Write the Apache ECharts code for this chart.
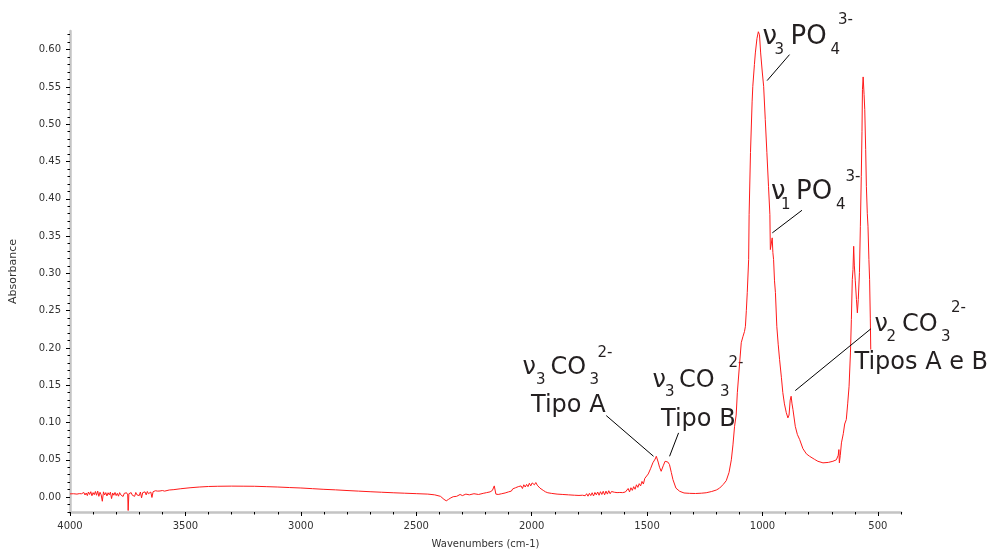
<!DOCTYPE html>
<html><head><meta charset="utf-8">
<script src="https://cdn.jsdelivr.net/npm/echarts@6/dist/echarts.min.js"></script>
<style>html,body{margin:0;padding:0;background:#fff}#c{width:995px;height:549px}</style>
</head><body><div id="c"></div><script>
// [wavenumber (cm-1), absorbance]
const spectrumPoints=[
[4000,0.0043],[3985,0.0045],[3970,0.0040],[3960,0.0046],[3955,0.0038],
[3950,0.0045],[3945,0.0030],[3940,0.0062],[3935,0.0028],[3930,0.0055],[3925,0.0020],[3920,0.0068],[3915,0.0035],[3910,0.0072],[3905,0.0018],
[3900,0.0060],[3895,0.0032],[3890,0.0075],[3885,0.0025],[3880,0.0080],[3875,0.0010],[3870,0.0065],[3865,0.0030],[3860,-0.0056],[3855,0.0070],
[3850,0.0028],[3845,0.0060],[3840,0.0015],[3835,0.0058],[3830,0.0030],[3825,0.0066],[3820,-0.0020],[3815,0.0055],[3810,0.0025],[3805,0.0062],
[3800,0.0020],[3795,0.0050],[3790,0.0012],[3785,0.0060],[3780,0.0030],[3775,0.0055],[3770,0.0008],[3765,0.0050],[3760,0.0028],[3755,0.0058],
[3750,0.0030],[3748,-0.0180],[3745,0.0045],[3740,0.0020],[3735,0.0060],[3730,0.0025],[3725,0.0050],[3720,0.0010],[3715,0.0062],[3710,0.0030],[3705,0.0055],
[3700,0.0020],[3695,0.0068],[3690,-0.0010],[3685,0.0060],[3680,0.0035],[3675,0.0070],[3670,0.0030],[3665,0.0075],[3660,0.0045],[3655,0.0020],
[3650,0.0068],[3645,-0.0005],[3640,0.0072],[3635,0.0050],[3630,0.0085],[3625,0.0060],[3620,0.0080],[3615,0.0065],[3610,0.0082],[3605,0.0070],[3600,0.0088],
[3590,0.0080],[3570,0.0095],[3550,0.0100],[3520,0.0112],[3480,0.0125],[3440,0.0135],[3400,0.0142],[3360,0.0145],[3300,0.0147],[3250,0.0146],
[3200,0.0145],[3150,0.0140],[3100,0.0135],[3050,0.0128],[3000,0.0122],[2950,0.0113],[2900,0.0104],[2850,0.0097],[2800,0.0088],[2750,0.0080],
[2700,0.0072],[2650,0.0065],[2600,0.0058],[2550,0.0052],[2500,0.0046],[2450,0.0040],[2420,0.0030],[2395,0.0010],[2380,-0.0030],[2370,-0.0050],
[2360,-0.0030],[2350,-0.0010],[2340,0.0005],[2325,0.0010],[2310,0.0035],[2300,0.0020],[2285,0.0040],[2270,0.0030],[2250,0.0045],[2230,0.0035],
[2210,0.0050],[2195,0.0060],[2180,0.0070],[2170,0.0090],[2162,0.0150],[2155,0.0040],[2145,0.0035],[2130,0.0045],[2115,0.0055],
[2100,0.0070],[2094,0.0095],[2088,0.0080],[2082,0.0110],[2076,0.0095],[2070,0.0125],[2064,0.0105],[2058,0.0140],[2052,0.0120],[2046,0.0150],
[2040,0.0115],[2034,0.0165],[2028,0.0135],[2022,0.0170],[2016,0.0140],[2010,0.0185],[2004,0.0150],[1998,0.0190],[1993,0.0215],[1988,0.0165],
[1982,0.0195],[1976,0.0160],[1970,0.0180],[1964,0.0120],[1958,0.0110],[1950,0.0090],[1940,0.0070],[1930,0.0058],[1915,0.0050],[1890,0.0040],
[1865,0.0035],[1840,0.0030],[1815,0.0025],[1795,0.0022],
[1780,0.0025],[1774,0.0040],[1768,0.0018],[1762,0.0045],[1756,0.0012],[1750,0.0050],[1744,0.0020],[1738,0.0058],[1732,0.0015],[1726,0.0062],
[1720,0.0030],[1714,0.0068],[1708,0.0025],[1702,0.0072],[1696,0.0035],[1690,0.0078],[1684,0.0030],[1678,0.0080],[1672,0.0040],[1666,0.0085],
[1660,0.0045],[1654,0.0075],[1648,0.0050],[1642,0.0065],[1636,0.0055],[1630,0.0060],[1624,0.0050],[1618,0.0062],[1612,0.0055],[1606,0.0060],
[1600,0.0058],[1594,0.0068],[1588,0.0062],[1582,0.0115],[1576,0.0070],[1570,0.0125],[1564,0.0090],[1558,0.0140],[1552,0.0105],[1546,0.0165],
[1540,0.0130],[1534,0.0180],[1528,0.0150],[1522,0.0210],[1516,0.0175],[1510,0.0250],[1504,0.0270],
[1495,0.0310],[1485,0.0380],[1475,0.0460],[1465,0.0510],[1460,0.0547],[1452,0.0470],[1446,0.0400],[1439,0.0346],[1430,0.0420],[1422,0.0480],
[1417,0.0493],[1410,0.0470],[1403,0.0436],[1395,0.0330],[1388,0.0235],[1375,0.0120],[1359,0.0078],[1340,0.0055],[1316,0.0050],[1290,0.0048],
[1265,0.0052],[1244,0.0058],[1220,0.0075],[1200,0.0095],[1186,0.0120],[1170,0.0170],[1157,0.0220],[1145,0.0330],[1135,0.0500],[1128,0.0700],
[1121,0.0950],[1114,0.1100],[1109,0.1400],[1099,0.1800],[1092,0.2070],[1085,0.2150],[1078,0.2220],[1074,0.2290],[1070,0.2500],[1066,0.2742],
[1060,0.3185],[1058,0.3790],[1052,0.4620],[1045,0.5300],[1042,0.5508],[1035,0.5800],[1031,0.5956],[1024,0.6150],[1018,0.6240],[1016,0.6250],
[1013,0.6200],[1008,0.5956],[1001,0.5700],[995,0.5508],[988,0.5062],[981,0.4619],[974,0.4167],[968,0.3788],[966,0.3319],[961,0.3300],
[958,0.3476],[955,0.3278],[952,0.3185],[948,0.2900],[944,0.2742],[938,0.2290],[932,0.2050],[926,0.1844],[918,0.1600],[912,0.1401],
[905,0.1250],[897,0.1133],[890,0.1062],[885,0.1100],[880,0.1300],[876,0.1352],[872,0.1250],[868,0.1173],[858,0.0949],[849,0.0840],
[839,0.0771],[825,0.0650],[810,0.0580],[796,0.0547],[774,0.0505],[760,0.0480],[738,0.0459],[715,0.0465],[695,0.0480],[680,0.0500],
[672,0.0560],[669,0.0637],[667,0.0459],[663,0.0560],[658,0.0727],[650,0.0850],[644,0.0980],[637,0.1039],[631,0.1250],[625,0.1486],
[619,0.1933],[615,0.2380],[611,0.2916],[608,0.3051],[605,0.3363],[602,0.3100],[598,0.2900],[593,0.2650],[589,0.2470],[585,0.2650],
[580,0.3010],[576,0.3631],[572,0.4301],[569,0.4900],[567,0.5464],[564,0.5634],[562,0.5634],[560,0.5400],[557,0.5196],[553,0.4659],
[550,0.4167],[546,0.3800],[543,0.3631],[539,0.3185],[536,0.2916],[533,0.2400],[531,0.1978]
];
const xTickLabels=[4000,3500,3000,2500,2000,1500,1000,500];
const yTickLabels=[0,0.05,0.10,0.15,0.20,0.25,0.30,0.35,0.40,0.45,0.50,0.55,0.60];
const xMinorTicks=[];for(let v=400;v<=4000;v+=100)xMinorTicks.push(v);
const yMinorTicks=[];for(let i=-2;i<=62;i++)yMinorTicks.push(i/100);
// leader lines in data coordinates: [x1,y1,x2,y2]
const leaders=[[883,0.5933,980,0.5585],[829,0.3846,957.5,0.3543],[1677,0.1093,1472,0.0547],[1363.6,0.0861,1402.6,0.0547],[531,0.2255,858,0.1428]];
// annotation text pieces: text, left x, baseline y, font size (pixels)
const annotations=[
 ['ν',762.5,45,26],['3',774.5,55,15],['PO',790.5,45,26],['4',830.5,55,15],['3-',838,25,15],
 ['ν',771,200,26],['1',781,210,15],['PO',796,200,26],['4',836,210,15],['3-',845.5,182,15],
 ['ν',522.5,375,24],['3',536,385,15],['CO',550.5,375,24],['3',589.5,385,15],['2-',597.5,358,15],['Tipo A',531,412.5,24],
 ['ν',652.5,388,24],['3',665,397,15],['CO',679,388,24],['3',720,397,15],['2-',728.5,368,15],['Tipo B',661,426.5,24],
 ['ν',874.5,331.5,24],['2',886.5,341.5,15],['CO',902,331.5,24],['3',941,341.5,15],['2-',951,313,15],['Tipos A e B',854.5,370,24]
];
const FONT='DejaVu Sans';
const chart=echarts.init(document.getElementById('c'),null,{renderer:'canvas'});
const axisLineStyle={color:'#c4c4c4',width:2.5};
const labelStyle={fontFamily:FONT,fontSize:10,color:'#333'};
chart.setOption({
 animation:false,
 grid:{left:70,right:94,top:31,bottom:37,containLabel:false,outerBoundsMode:'none'},
 xAxis:[{type:'value',inverse:true,min:400,max:4000,position:'bottom',
   axisLine:{show:true,onZero:false,lineStyle:axisLineStyle},
   axisTick:{show:true,length:4,customValues:xTickLabels,lineStyle:{color:'#000',width:1}},
   axisLabel:Object.assign({customValues:xTickLabels,margin:9,formatter:v=>String(v)},labelStyle),
   splitLine:{show:false},
   name:'Wavenumbers (cm-1)',nameLocation:'middle',nameGap:27,nameTextStyle:{fontFamily:FONT,fontSize:10,color:'#333'}},
  {type:'value',inverse:true,min:400,max:4000,position:'bottom',
   axisLine:{show:false,onZero:false},
   axisTick:{show:true,length:2.5,customValues:xMinorTicks,lineStyle:{color:'#000',width:1}},
   axisLabel:{show:false,customValues:xMinorTicks},splitLine:{show:false}}],
 yAxis:[{type:'value',min:-0.02,max:0.625,position:'left',
   axisLine:{show:true,onZero:false,lineStyle:axisLineStyle},
   axisTick:{show:true,length:4,customValues:yTickLabels,lineStyle:{color:'#000',width:1}},
   axisLabel:Object.assign({customValues:yTickLabels,margin:9,formatter:v=>v.toFixed(2)},labelStyle),
   splitLine:{show:false},
   name:'Absorbance',nameLocation:'middle',nameGap:51,nameTextStyle:{fontFamily:FONT,fontSize:11,color:'#333'}},
  {type:'value',min:-0.02,max:0.625,position:'left',
   axisLine:{show:false,onZero:false},
   axisTick:{show:true,length:2.5,customValues:yMinorTicks,lineStyle:{color:'#000',width:1}},
   axisLabel:{show:false,customValues:yMinorTicks},splitLine:{show:false}}],
 series:[{type:'line',xAxisIndex:0,yAxisIndex:0,
   data:spectrumPoints,
   showSymbol:false,symbol:'none',sampling:null,
   lineStyle:{color:'#ff1a1a',width:1},
   emphasis:{disabled:true},
   markLine:{silent:true,symbol:['none','none'],label:{show:false},emphasis:{disabled:true},
     lineStyle:{color:'#000',width:1,type:'solid'},animation:false,
     data:leaders.map(l=>[{coord:[l[0],l[1]]},{coord:[l[2],l[3]]}])}}],
 graphic:annotations.map(p=>({type:'text',x:p[1],y:p[2]-0.3*p[3],silent:true,
   style:{text:p[0],font:p[3]+'px "DejaVu Sans"',fill:'#231f20',align:'left',verticalAlign:'middle'}}))
});
</script></body></html>
